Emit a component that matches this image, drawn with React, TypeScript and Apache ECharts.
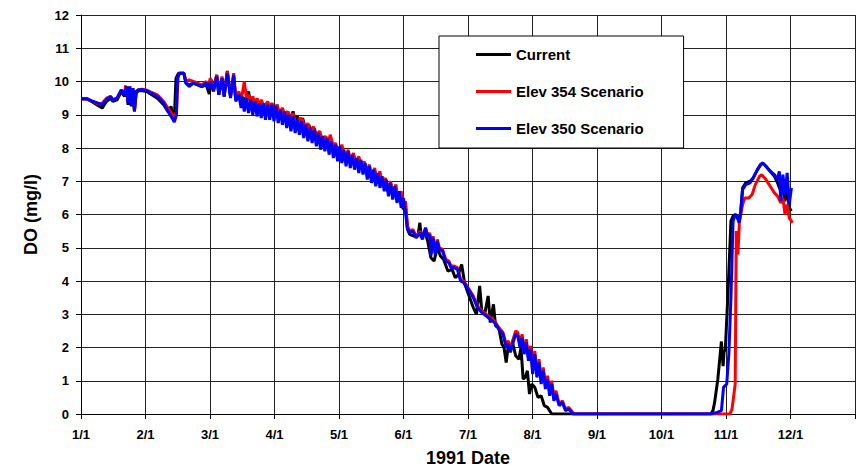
import React, { useEffect, useRef } from "react";
import * as echarts from "echarts";

const DAYS_PER_MONTH = 365 / 12;
const monthLabels = ["1/1", "2/1", "3/1", "4/1", "5/1", "6/1", "7/1", "8/1", "9/1", "10/1", "11/1", "12/1"];
const seriesNames = ["Current", "Elev 354 Scenario", "Elev 350 Scenario"];
const seriesColors = ["#000000", "#ff0000", "#0000ff"];

// [day of year, DO mg/l]
const currentData: number[][] = [
  [0, 9.48], [3, 9.47], [5, 9.4], [8, 9.28], [10, 9.2], [11, 9.3], [12, 9.4], [14, 9.5], [15, 9.4], [17, 9.45],
  [19, 9.7], [20.5, 9.55], [21.5, 9.8], [22.2, 9.3], [23, 9.8], [23.7, 9.25], [24.5, 9.75], [25.2, 9.1], [26, 9.65],
  [27, 9.72], [29, 9.72], [31, 9.7], [33, 9.62], [36, 9.5], [39, 9.3], [41, 9.1], [42.5, 9.25], [43, 9.0], [44, 8.85],
  [44.8, 10.1], [46, 10.25], [48.5, 10.25], [49.5, 9.95], [51, 9.9], [53, 9.95], [55, 9.9], [57, 9.85], [59, 9.9],
  [60.5, 9.62], [61.5, 10.05], [62.5, 9.75], [64, 10.2], [65, 9.6], [66.5, 10.1], [67.5, 9.55], [69, 10.32], [70.5, 9.55],
  [72, 10.15], [73, 9.45], [74.5, 9.6], [75.5, 9.3], [76.5, 9.5], [78, 9.45], [79, 9.7], [80, 9.3], [81, 9.5], [82, 9.2],
  [83, 9.45], [84, 9.15], [85, 9.4], [86.5, 9.1], [88, 9.4], [89, 9.05], [90, 9.35], [91, 9.0], [92.5, 9.3], [93.5, 8.95],
  [95, 9.2], [96, 8.9], [97.5, 9.1], [98.5, 8.85], [100, 9.1], [101, 8.8], [102, 8.95], [103, 8.7], [104.5, 8.9], [106, 8.55],
  [107.5, 8.7], [108.5, 8.4], [110, 8.6], [111, 8.35], [112.5, 8.5], [113.5, 8.2], [115, 8.35], [116, 8.05], [117.5, 8.3],
  [119, 8.0], [120, 8.1], [121.5, 7.85], [123, 8.0], [124.5, 7.7], [126, 7.9], [127, 7.6], [128.5, 7.8], [129.5, 7.5],
  [131, 7.7], [132, 7.4], [133.5, 7.55], [134.5, 7.25], [136, 7.45], [137, 7.1], [138.5, 7.3], [139.5, 6.95], [141, 7.2],
  [142, 6.85], [143.5, 7.05], [144.5, 6.7], [146, 6.9], [147, 6.55], [148.5, 6.75], [149.5, 6.4], [151, 6.5], [152, 6.15],
  [153, 6.3], [154, 5.55], [155, 5.4], [157, 5.35], [159, 5.4], [159.8, 5.75], [160.5, 5.3], [162, 5.5], [163.5, 5.2],
  [165, 4.7], [166.5, 4.6], [168, 5.0], [169.5, 4.75], [171, 4.65], [173, 4.3], [175, 4.35], [176.5, 4.1], [178, 4.2],
  [179.5, 4.5], [181, 3.9], [183, 3.55], [185, 3.2], [186.5, 3.0], [188, 3.85], [189, 3.1], [190.5, 3.05], [192, 3.55],
  [193, 2.75], [194.5, 3.3], [195.5, 2.65], [197, 2.6], [198.5, 2.1], [199.5, 2.0], [200.5, 1.55], [201.5, 2.05],
  [202.5, 1.9], [203.5, 2.15], [205, 1.75], [206.5, 1.65], [207.5, 2.0], [208.5, 1.05], [209.5, 1.1], [210.5, 1.3],
  [211.5, 0.6], [212.5, 0.9], [214, 0.8], [215.5, 0.5], [217, 0.55], [218.5, 0.25], [220, 0.2], [222, 0],
  [297, 0], [298, 0.1], [298.8, 0.35], [300.3, 1.04], [302, 2.18], [302.8, 1.44], [303.3, 1.93], [303.8, 1.88],
  [305, 3.5], [306.5, 5.8], [307.5, 5.95], [308.5, 6.0], [309.5, 5.9], [310.3, 5.8], [311, 6.0], [312, 6.8], [313.5, 6.95],
  [315.5, 7.0], [317, 7.1], [319, 7.35], [320.5, 7.5], [321.5, 7.55], [323, 7.45], [325, 7.3], [327, 7.15], [328.5, 6.95],
  [330, 6.7], [331, 6.9], [332, 6.4], [333, 6.8], [334, 6.2], [335, 6.1],
];

const elev354Data: number[][] = [
  [0, 9.48], [3, 9.47], [5, 9.42], [8, 9.33], [10, 9.35], [12, 9.5], [14, 9.55], [15, 9.45], [17, 9.5], [19, 9.75],
  [20.5, 9.6], [21, 9.88], [22.2, 9.4], [23, 9.85], [23.7, 9.35], [24.5, 9.8], [25.2, 9.15], [26, 9.7], [27, 9.75],
  [29, 9.77], [31, 9.74], [33, 9.68], [36, 9.6], [39, 9.4], [41, 9.2], [43, 9.0], [44, 8.9], [45, 9.1], [45.8, 10.15],
  [46.5, 10.25], [48.5, 10.25], [49.5, 10.0], [51, 10.05], [53, 10.0], [55, 9.95], [57, 9.9], [59, 10.0], [60, 9.85],
  [61, 10.1], [62.5, 9.75], [64, 10.2], [65, 9.65], [66.5, 10.15], [67.5, 9.6], [69, 10.3], [70.5, 9.6], [72, 10.25],
  [73, 9.5], [74.5, 9.7], [75.5, 9.4], [77, 10.0], [78, 9.5], [79, 9.6], [80, 9.4], [81, 9.55], [82, 9.3], [83, 9.5],
  [84, 9.25], [85, 9.45], [86.5, 9.2], [88, 9.4], [89, 9.15], [90, 9.35], [91, 9.05], [92.5, 9.3], [93.5, 9.0], [95, 9.2],
  [96, 8.95], [97.5, 9.1], [98.5, 8.85], [100, 9.05], [101, 8.8], [102, 8.55], [103, 8.9], [104.5, 8.85], [105.5, 8.55],
  [107, 8.75], [108, 8.45], [109.5, 8.65], [111, 8.35], [112.5, 8.5], [114, 8.25], [115.5, 8.35], [116.5, 8.1], [117.5, 8.4],
  [119, 8.05], [120, 8.15], [121.5, 7.85], [123, 8.1], [124.5, 7.7], [126, 7.95], [127, 7.6], [128.5, 7.85], [129.5, 7.5],
  [131, 7.75], [132, 7.4], [133.5, 7.6], [134.5, 7.25], [136, 7.5], [137, 7.1], [138.5, 7.4], [139.5, 7.0], [141, 7.3],
  [142, 6.9], [143.5, 7.1], [144.5, 6.75], [146, 7.0], [147, 6.6], [148.5, 6.9], [149.5, 6.45], [151, 6.7], [152, 6.2],
  [153, 6.4], [154, 5.65], [155, 5.5], [156.5, 5.55], [158, 5.35], [160, 5.5], [161, 5.3], [162.5, 5.6], [163.5, 5.35],
  [164.5, 5.45], [165, 4.8], [166, 5.35], [167, 4.85], [168, 5.25], [169, 5.0], [170.5, 4.95], [172, 4.65], [173.5, 4.6],
  [174.5, 4.45], [176, 4.45], [177.5, 4.4], [179, 4.05], [180.5, 4.0], [183, 3.75], [185, 3.55], [187, 3.25], [189, 3.1],
  [191, 3.0], [193, 2.9], [195, 2.8], [197, 2.6], [199, 2.45], [200.5, 2.1], [201.5, 2.2], [202.5, 1.95], [203.5, 2.2],
  [205, 2.5], [206, 2.45], [207, 2.1], [208, 2.4], [209, 1.9], [210, 2.25], [211, 1.7], [212, 2.05], [213, 1.3], [214, 1.9],
  [215, 1.2], [216, 1.65], [217, 1.0], [218, 1.4], [219, 0.85], [220, 1.15], [221, 0.65], [222, 1.0], [223, 0.5], [224, 0.7],
  [225.5, 0.3], [227, 0.4], [228.5, 0.15], [230, 0.2], [232.5, 0],
  [306, 0], [307, 0.15], [307.8, 0.55], [308.5, 0.9], [309, 5.5], [309.8, 4.8], [310.5, 5.8], [312, 6.3], [313, 6.5],
  [315, 6.5], [316.5, 6.6], [318, 6.9], [320, 7.15], [321, 7.2], [323, 7.05], [325, 6.85], [327, 6.65], [328.5, 6.55],
  [330, 6.35], [331, 6.5], [332, 6.0], [333, 6.3], [334, 5.9], [335.5, 5.75],
];

const elev350Data: number[][] = [
  [0, 9.48], [3, 9.48], [5, 9.42], [8, 9.35], [10, 9.3], [12, 9.45], [14, 9.55], [15, 9.45], [17, 9.5], [19, 9.75],
  [20.5, 9.6], [21.5, 9.85], [22.2, 9.35], [23, 9.85], [23.7, 9.3], [24.5, 9.8], [25.2, 9.1], [26, 9.7], [27, 9.75],
  [29, 9.75], [31, 9.72], [33, 9.65], [36, 9.55], [39, 9.35], [41, 9.1], [43, 8.9], [44, 8.78], [45, 9.0], [45.5, 10.1],
  [46.5, 10.25], [48.5, 10.25], [49.5, 9.95], [51, 9.85], [53, 9.95], [55, 9.9], [57, 9.85], [59, 9.95], [60, 9.8],
  [61, 10.0], [62.5, 9.7], [64, 10.15], [65, 9.6], [66.5, 10.1], [67.5, 9.55], [69, 10.25], [70.5, 9.5], [72, 10.2],
  [73, 9.4], [74.5, 9.6], [75.5, 9.2],
  [76, 9.55], [77, 9.1], [78, 9.5], [79, 9.05], [80, 9.45], [81, 9.0], [82, 9.4], [83, 8.95], [84, 9.35], [85, 8.9],
  [86, 9.35], [87, 8.85], [88, 9.3], [89, 8.85], [90, 9.3], [91, 8.8], [92, 9.25], [93, 8.75], [94, 9.15], [95, 8.7],
  [96, 9.1], [97, 8.6], [98, 9.0], [99, 8.5], [100, 8.95], [101, 8.45], [102, 8.85], [103, 8.4], [104, 8.8], [105, 8.3],
  [106, 8.7], [107, 8.2], [108, 8.6], [109, 8.15], [110, 8.55], [111, 8.05], [112, 8.45], [113, 7.95], [114, 8.35],
  [115, 7.9], [116, 8.3], [117, 7.8], [118, 8.2], [119, 7.7], [120, 8.1], [121, 7.6], [122, 8.05], [123, 7.55], [124, 7.95],
  [125, 7.45], [126, 7.9], [127, 7.4], [128, 7.8], [129, 7.35], [130, 7.7], [131, 7.25], [132, 7.65], [133, 7.2], [134, 7.55],
  [135, 7.05], [136, 7.45], [137, 6.95], [138, 7.35], [139, 6.85], [140, 7.25], [141, 6.8], [142, 7.15], [143, 6.7],
  [144, 7.05], [145, 6.55], [146, 6.95], [147, 6.45], [148, 6.85], [149, 6.35], [150, 6.7], [151, 6.2], [152, 6.5],
  [153, 6.1], [153.8, 5.6], [155, 5.45], [156.5, 5.5], [158, 5.3], [160, 5.45], [161, 5.25], [162.5, 5.6], [163.5, 5.3],
  [164.5, 5.4], [165, 4.75], [166, 5.3], [167, 4.8], [168, 5.2], [169, 4.95], [170.5, 4.9], [172, 4.6], [173.5, 4.55],
  [174.5, 4.4], [176, 4.4], [177.5, 4.35], [179, 4.0], [180.5, 3.95], [183, 3.72], [185, 3.5], [187, 3.2], [189, 3.05],
  [191, 2.95], [193, 2.85], [195, 2.75], [197, 2.55], [199, 2.4], [200.5, 2.0], [201.5, 2.1], [202.5, 1.85], [203.5, 2.1],
  [205, 2.4], [206, 2.35], [207, 2.0], [208, 2.3], [209, 1.8], [210, 2.15], [211, 1.6], [212, 1.95], [213, 1.2], [214, 1.8],
  [215, 1.1], [216, 1.55], [217, 0.9], [218, 1.3], [219, 0.75], [220, 1.05], [221, 0.55], [222, 0.9], [223, 0.4], [224, 0.6],
  [225.5, 0.25], [227, 0.35], [228.5, 0.1], [230, 0.15], [232, 0],
  [297, 0], [300, 0.05], [302, 0.1], [303, 0.8], [304.5, 0.9], [305.5, 1.8], [306.5, 3.5], [307.5, 5.8], [308.5, 6.0],
  [309.5, 5.95], [310.3, 5.75], [311, 6.0], [312, 6.75], [313.5, 6.9], [315.5, 6.95], [317, 7.1], [319, 7.35], [320.5, 7.5],
  [321.5, 7.55], [323, 7.45], [325, 7.3], [327, 7.2], [328.5, 7.05], [329.3, 7.3], [330, 6.4], [331, 7.2], [332, 6.6],
  [333, 7.25], [334, 6.3], [335, 6.8],
];

const allData = [currentData, elev354Data, elev350Data];
const FONT = "'Liberation Sans', Arial, sans-serif";

export default function App() {
  const ref = useRef<HTMLDivElement>(null);
  useEffect(() => {
    document.body.style.margin = "0";
    if (!ref.current) return;
    const chart = echarts.init(ref.current, null, { renderer: "svg" });
    chart.setOption({
      animation: false,
      backgroundColor: "#ffffff",
      grid: { left: 81, right: 5, top: 15, bottom: 54, containLabel: false },
      legend: {
        orient: "vertical",
        left: 439,
        top: 36,
        data: seriesNames,
        icon: "rect",
        backgroundColor: "#ffffff",
        borderColor: "#000000",
        borderWidth: 1,
        borderRadius: 0,
        padding: [11, 40, 12, 37],
        itemWidth: 35,
        itemHeight: 3,
        itemGap: 22,
        textStyle: { fontFamily: FONT, fontWeight: "bold", fontSize: 15, color: "#000", lineHeight: 15 },
      },
      xAxis: {
        type: "value",
        min: 0,
        max: 12,
        interval: 1,
        name: "1991 Date",
        nameLocation: "middle",
        nameGap: 35,
        nameTextStyle: { fontFamily: FONT, fontWeight: "bold", fontSize: 18, color: "#000" },
        axisLine: { show: true, lineStyle: { color: "#000", width: 1 } },
        axisTick: { show: true, length: 5, lineStyle: { color: "#000" } },
        axisLabel: {
          margin: 14,
          fontFamily: FONT,
          fontWeight: "bold",
          fontSize: 13,
          color: "#000",
          formatter: (v: number) => {
            const i = Math.round(v);
            return i >= 0 && i < monthLabels.length ? monthLabels[i] : "";
          },
        },
        splitLine: { show: true, lineStyle: { color: "#222", width: 1 } },
      },
      yAxis: {
        type: "value",
        min: 0,
        max: 12,
        interval: 1,
        name: "DO (mg/l)",
        nameLocation: "middle",
        nameGap: 41,
        nameRotate: 90,
        nameTextStyle: { fontFamily: FONT, fontWeight: "bold", fontSize: 18, color: "#000" },
        axisLine: { show: true, lineStyle: { color: "#000", width: 1 } },
        axisTick: { show: true, length: 5, lineStyle: { color: "#000" } },
        axisLabel: { margin: 12, fontFamily: FONT, fontWeight: "bold", fontSize: 13, color: "#000" },
        splitLine: { show: true, lineStyle: { color: "#222", width: 1 } },
      },
      series: seriesNames.map((name, i) => ({
        name,
        type: "line",
        symbol: "none",
        showSymbol: false,
        color: seriesColors[i],
        lineStyle: { color: seriesColors[i], width: 3 },
        z: 2 + i,
        data: allData[i].map((p) => [p[0] / DAYS_PER_MONTH, p[1]]),
      })),
    });
    return () => chart.dispose();
  }, []);
  return <div ref={ref} style={{ width: 860, height: 472 }} />;
}
